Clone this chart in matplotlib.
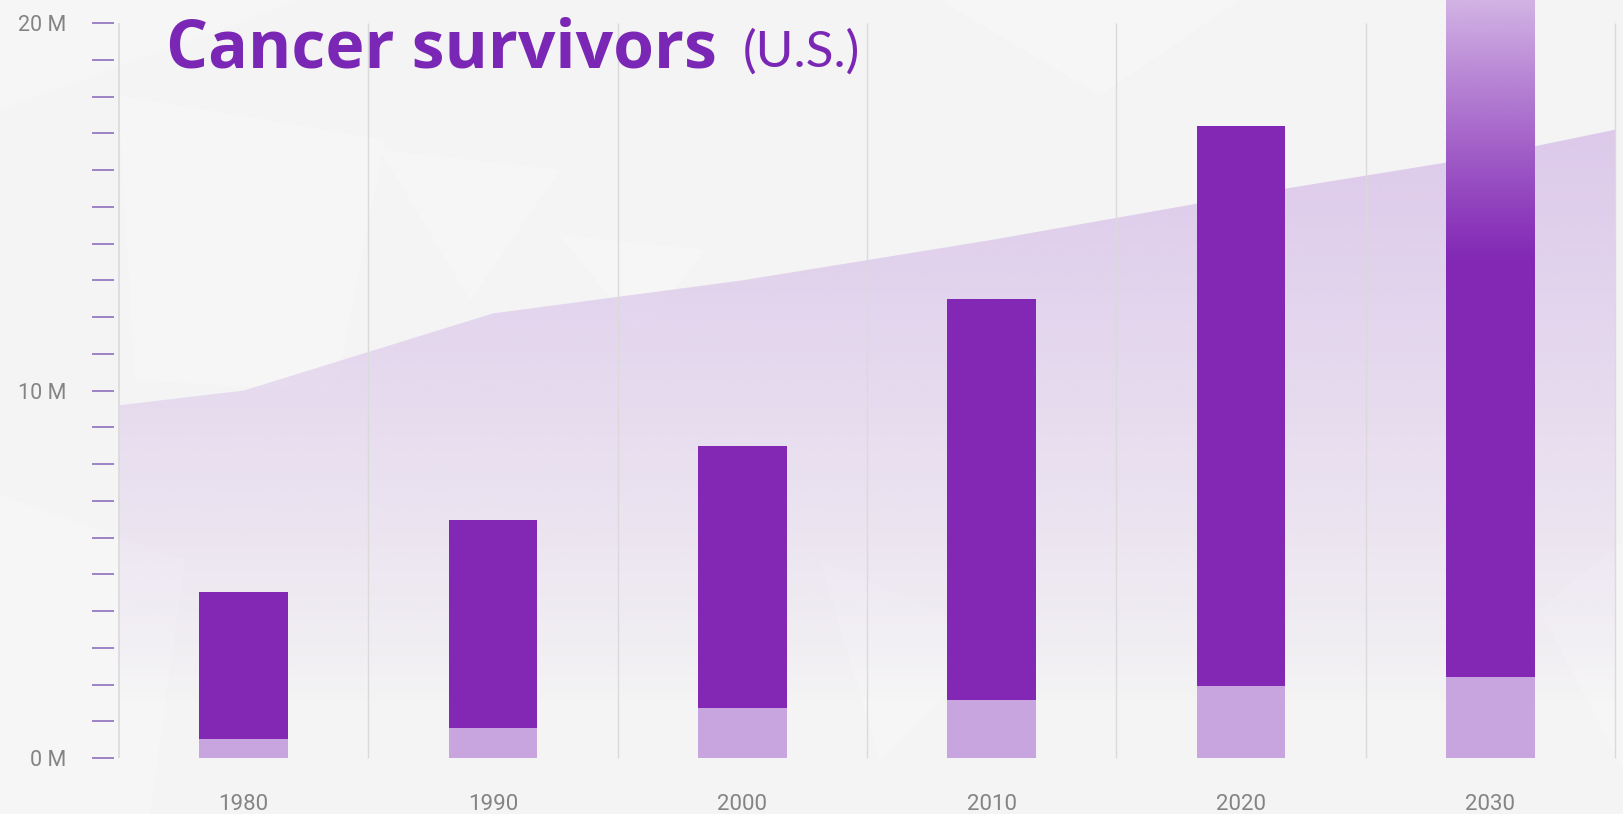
import numpy as np
import matplotlib
matplotlib.use("Agg")
import matplotlib.pyplot as plt
from matplotlib.patches import Polygon
from matplotlib.colors import to_rgb

# ---------------- data (millions) ----------------
years = ["1980", "1990", "2000", "2010", "2020", "2030"]
survivors_light = [0.52, 0.82, 1.35, 1.58, 1.97, 2.20]     # lower light segment
survivors_total = [4.52, 6.48, 8.49, 12.48, 17.19, 22.5]   # total bar height
trend_values = [10.0, 12.1, 13.0, 14.1, 15.3, 16.4]        # background band at each year
trend_left_edge = 9.6
trend_right_edge = 17.1
y_major = [0, 10, 20]
y_major_labels = ["0 M", "10 M", "20 M"]
title_main = "Cancer survivors"
title_sub = "(U.S.)"

# ---------------- style ----------------
W, H = 1624, 814
BG = "#f4f4f4"
DARK = "#8228b5"
LIGHT = "#c9a5df"
TITLE_C = "#7b27b6"
GRAY_TXT = "#848484"
GRID_C = "#dadada"
TICK_C = "#9d82c6"

fig = plt.figure(figsize=(W / 100, H / 100), dpi=100, facecolor=BG)

# faint low-poly background highlights (decorative)
def px(pts):
    return [(x / W, 1 - y / H) for x, y in pts]

deco = [
    [(118, 95), (385, 140), (335, 392), (135, 380)],
    [(0, 495), (185, 560), (150, 814), (0, 814)],
    [(560, 235), (705, 250), (640, 335)],
    [(940, 0), (1240, 0), (1100, 95)],
    [(1540, 610), (1624, 540), (1624, 770)],
    [(0, 0), (300, 0), (0, 110)],
    [(380, 150), (560, 170), (470, 300)],
    [(820, 560), (1000, 640), (880, 760)],
]
for pts in deco:
    fig.patches.append(Polygon(px(pts), closed=True, transform=fig.transFigure,
                               facecolor="white", edgecolor="none", alpha=0.25, zorder=-5))

ax = fig.add_axes([119 / W, (H - 758) / H, (1615 - 119) / W, 758 / H])
ax.patch.set_visible(False)
for s in ["top", "right", "bottom", "left"]:
    ax.spines[s].set_visible(False)

n = len(years)
x = np.arange(n)
xlim = (-0.5, n - 0.5)
ylim = (0, 20.63)

# ---------------- background trend band with vertical gradient ----------------
band_x = np.concatenate([[xlim[0]], x, [xlim[1]]])
band_y = np.concatenate([[trend_left_edge], trend_values, [trend_right_edge]])
verts = [(xlim[0], 0)] + list(zip(band_x, band_y)) + [(xlim[1], 0)]
band_poly = Polygon(verts, closed=True, facecolor="none", edgecolor="none")
ax.add_patch(band_poly)
gy = np.linspace(0, 1, 300)[:, None]
yvals = gy * ylim[1]
alpha = np.clip((yvals - 1.5) / 15.5, 0, 1) ** 0.85 * 0.92
rgb = np.array(to_rgb("#dbc6ea"))
grad = np.zeros((300, 2, 4))
grad[..., :3] = rgb
grad[..., 3] = alpha
im = ax.imshow(grad, extent=[xlim[0], xlim[1], 0, ylim[1]], origin="lower",
               aspect="auto", zorder=1, interpolation="bilinear")
im.set_clip_path(band_poly)

# ---------------- axis line & vertical separators ----------------
ax.vlines([xlim[0]], 0, 20, color=GRID_C, lw=1.2, zorder=2, clip_on=False)
ax.vlines(np.arange(n) + 0.5, 0, 20, color=GRID_C, lw=1.0, zorder=2, clip_on=False)

# ---------------- bars ----------------
bw = 0.355
upper = [t - l for t, l in zip(survivors_total, survivors_light)]
ax.bar(x, survivors_light, width=bw, color=LIGHT, zorder=3)
bars_up = ax.bar(x, upper, bottom=survivors_light, width=bw, color=DARK, zorder=3)

# fading top of the projected (last) bar
last = bars_up[-1]
x0 = last.get_x()
g = np.linspace(0, 1, 400)[:, None]
yy = g * ylim[1]
fa = np.clip((yy - 13.5) / (ylim[1] - 13.5), 0, 1) ** 1.1 * 0.9
fg = np.zeros((400, 2, 4))
fg[..., :3] = np.array(to_rgb("#dcc4ea"))
fg[..., 3] = fa
im2 = ax.imshow(fg, extent=[x0, x0 + bw, 0, ylim[1]], origin="lower",
                aspect="auto", zorder=4, interpolation="bilinear")
im2.set_clip_path(last)

ax.set_xlim(*xlim)
ax.set_ylim(*ylim)

# ---------------- ticks ----------------
ax.spines["left"].set_position(("outward", 3.6))
ax.set_yticks(y_major)
ax.set_yticklabels(y_major_labels)
ax.set_yticks([v for v in range(0, 21) if v not in y_major], minor=True)
ax.tick_params(axis="y", which="both", length=15.8, width=1.4, color=TICK_C,
               direction="out", pad=18.5, labelsize=15.5, labelcolor=GRAY_TXT)
for lab in ax.get_yticklabels():
    lab.set_family(["Roboto", "DejaVu Sans"])
ax.set_xticks(x)
ax.set_xticklabels(years)
ax.tick_params(axis="x", length=0, pad=26, labelsize=16, labelcolor=GRAY_TXT)
for lab in ax.get_xticklabels():
    lab.set_family(["Roboto", "DejaVu Sans"])

# ---------------- title ----------------
t1 = fig.text(166 / W, 1 - 67 / H, title_main, fontsize=47.5, fontweight="bold",
              color=TITLE_C, family=["Open Sans", "DejaVu Sans"], va="baseline", ha="left")
fig.canvas.draw()
bb = t1.get_window_extent()
fig.text((bb.x1 + 26) / W, 1 - 67 / H, title_sub, fontsize=37, fontweight="normal",
         color=TITLE_C, family=["Lato", "DejaVu Sans"], va="baseline", ha="left")

fig.savefig("out.png", dpi=100, facecolor=BG)
